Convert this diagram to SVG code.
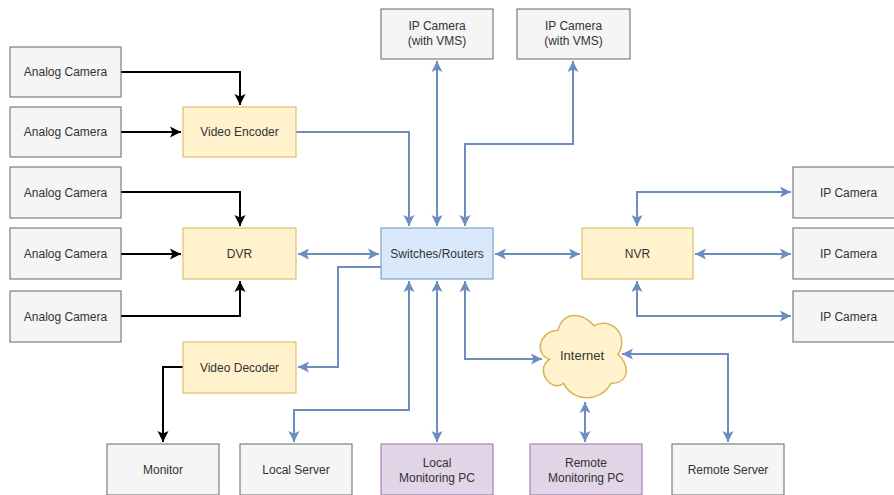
<svg xmlns="http://www.w3.org/2000/svg" width="894" height="495" viewBox="0 0 894 495">
<style>
.box rect{stroke-width:1}
.g rect{fill:#f5f5f5;stroke:#666666}
.y rect,.y path{fill:#fff2cc;stroke:#d6b656}
.b rect{fill:#dae8fc;stroke:#6c8ebf}
.p rect{fill:#e1d5e7;stroke:#9673a6}
text{font-family:"Liberation Sans",Arial,sans-serif;font-size:12px;fill:#333333;text-anchor:middle}
.cb{fill:none;stroke:#6c8ebf;stroke-width:2}
.ck{fill:none;stroke:#000000;stroke-width:2}
</style>
<defs>
<marker id="ab" markerUnits="userSpaceOnUse" markerWidth="14" markerHeight="14" viewBox="0 0 14 14" refX="12" refY="7" orient="auto-start-reverse">
<path d="M1,1.5 L12,7 L1,12.5 L3.5,7 Z" fill="#6c8ebf"/>
</marker>
<marker id="ak" markerUnits="userSpaceOnUse" markerWidth="14" markerHeight="14" viewBox="0 0 14 14" refX="12" refY="7" orient="auto-start-reverse">
<path d="M1,1.5 L12,7 L1,12.5 L3.5,7 Z" fill="#000000"/>
</marker>
</defs>
<rect width="894" height="495" fill="#ffffff"/>
<g id="connectors">
<path class="ck" d="M121,72 H240 V105" marker-end="url(#ak)"/>
<path class="ck" d="M121,132 H181" marker-end="url(#ak)"/>
<path class="ck" d="M121,192 H240 V226" marker-end="url(#ak)"/>
<path class="ck" d="M121,254 H181" marker-end="url(#ak)"/>
<path class="ck" d="M121,316 H240 V281" marker-end="url(#ak)"/>
<path class="ck" d="M183,367 H163 V442" marker-end="url(#ak)"/>
<path class="cb" d="M296,132 H409 V226" marker-end="url(#ab)"/>
<path class="cb" d="M437,226 V61" marker-start="url(#ab)" marker-end="url(#ab)"/>
<path class="cb" d="M465,226 V144 H573 V61" marker-start="url(#ab)" marker-end="url(#ab)"/>
<path class="cb" d="M298,254 H379" marker-start="url(#ab)" marker-end="url(#ab)"/>
<path class="cb" d="M495,254 H580" marker-start="url(#ab)" marker-end="url(#ab)"/>
<path class="cb" d="M695,254 H791" marker-start="url(#ab)" marker-end="url(#ab)"/>
<path class="cb" d="M637,226 V192 H791" marker-start="url(#ab)" marker-end="url(#ab)"/>
<path class="cb" d="M637,281 V316 H791" marker-start="url(#ab)" marker-end="url(#ab)"/>
<path class="cb" d="M381,267 H338 V367 H298" marker-end="url(#ab)"/>
<path class="cb" d="M409,281 V410 H294 V442" marker-start="url(#ab)" marker-end="url(#ab)"/>
<path class="cb" d="M437,281 V442" marker-start="url(#ab)" marker-end="url(#ab)"/>
<path class="cb" d="M465,281 V359 H542" marker-start="url(#ab)" marker-end="url(#ab)"/>
<path class="cb" d="M622,354 H728 V442" marker-start="url(#ab)" marker-end="url(#ab)"/>
<path class="cb" d="M585,402 V442" marker-start="url(#ab)" marker-end="url(#ab)"/>
</g>
<g id="analog1" class="box g"><rect x="10" y="47" width="111" height="50"/><text x="65.5" y="76">Analog Camera</text></g>
<g id="analog2" class="box g"><rect x="10" y="107" width="111" height="50"/><text x="65.5" y="136">Analog Camera</text></g>
<g id="analog3" class="box g"><rect x="10" y="167" width="111" height="51"/><text x="65.5" y="197">Analog Camera</text></g>
<g id="analog4" class="box g"><rect x="10" y="228" width="111" height="51"/><text x="65.5" y="258">Analog Camera</text></g>
<g id="analog5" class="box g"><rect x="10" y="291" width="111" height="51"/><text x="65.5" y="321">Analog Camera</text></g>
<g id="encoder" class="box y"><rect x="183" y="107" width="113" height="50"/><text x="239.5" y="136">Video Encoder</text></g>
<g id="dvr" class="box y"><rect x="183" y="228" width="113" height="51"/><text x="239.5" y="258">DVR</text></g>
<g id="decoder" class="box y"><rect x="183" y="342" width="113" height="51"/><text x="239.5" y="372">Video Decoder</text></g>
<g id="switch" class="box b"><rect x="381" y="228" width="112" height="51"/><text x="437" y="258">Switches/Routers</text></g>
<g id="nvr" class="box y"><rect x="582" y="228" width="111" height="51"/><text x="637.5" y="258">NVR</text></g>
<g id="ipvms1" class="box g"><rect x="381" y="9" width="112" height="50"/><text x="437" y="30">IP Camera</text><text x="437" y="45">(with VMS)</text></g>
<g id="ipvms2" class="box g"><rect x="517" y="9" width="113" height="50"/><text x="573.5" y="30">IP Camera</text><text x="573.5" y="45">(with VMS)</text></g>
<g id="ipcam1" class="box g"><rect x="793" y="167" width="111" height="51"/><text x="848.5" y="197">IP Camera</text></g>
<g id="ipcam2" class="box g"><rect x="793" y="228" width="111" height="51"/><text x="848.5" y="258">IP Camera</text></g>
<g id="ipcam3" class="box g"><rect x="793" y="291" width="111" height="51"/><text x="848.5" y="321">IP Camera</text></g>
<g id="internet" class="y"><path stroke-width="1.5" d="M558,330.5 C539,330.5 534,354.5 549.4,359.3 C534,369.9 551.3,393 563.8,383.4 C572.4,402.6 601.2,402.6 610.8,383.4 C630,383.4 630,364.2 618,354.5 C630,335.3 610.8,316.1 594,325.7 C582,311.3 562.8,311.3 558,330.5 Z"/><text x="582" y="360" style="font-size:13px">Internet</text></g>
<g id="monitor" class="box g"><rect x="107" y="444" width="112" height="51"/><text x="163" y="474">Monitor</text></g>
<g id="localserver" class="box g"><rect x="240" y="444" width="112" height="51"/><text x="296" y="474">Local Server</text></g>
<g id="localpc" class="box p"><rect x="381" y="444" width="112" height="51"/><text x="437" y="467">Local</text><text x="437" y="482">Monitoring PC</text></g>
<g id="remotepc" class="box p"><rect x="530" y="444" width="112" height="51"/><text x="586" y="467">Remote</text><text x="586" y="482">Monitoring PC</text></g>
<g id="remoteserver" class="box g"><rect x="672" y="444" width="112" height="51"/><text x="728" y="474">Remote Server</text></g>
</svg>
